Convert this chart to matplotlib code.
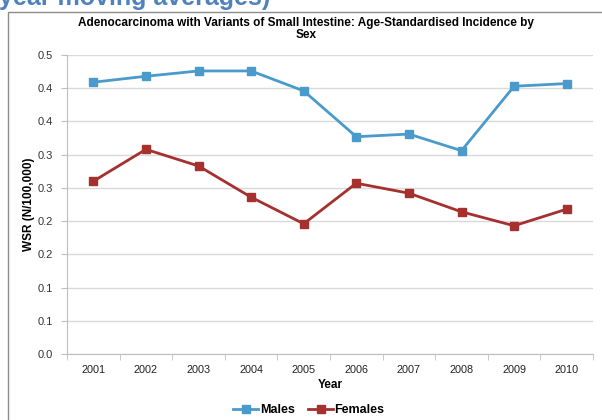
import matplotlib.pyplot as plt
from matplotlib.patches import Rectangle

plt.rcParams['font.family'] = ['Liberation Sans', 'DejaVu Sans']

years = ['2001', '2002', '2003', '2004', '2005', '2006', '2007', '2008', '2009', '2010']
males = [0.409, 0.418, 0.426, 0.426, 0.396, 0.327, 0.331, 0.306, 0.403, 0.407]
females = [0.260, 0.308, 0.283, 0.236, 0.196, 0.257, 0.242, 0.214, 0.193, 0.218]

y_ticks = [0.0, 0.05, 0.10, 0.15, 0.20, 0.25, 0.30, 0.35, 0.40, 0.45]
y_labels = ['0.0', '0.1', '0.1', '0.2', '0.2', '0.3', '0.3', '0.4', '0.4', '0.5']

blue = '#4A9BCB'
red = '#A5302E'
grid = '#D9D9D9'
axis_col = '#BFBFBF'

fig = plt.figure(figsize=(6.02, 4.20), dpi=100)

# chart frame (only the top and left edges fall inside the image)
fig.patches.append(Rectangle((8 / 602, -0.05), 1.2, (420 - 12) / 420 + 0.05,
                             transform=fig.transFigure, fill=False,
                             edgecolor='#8C8C8C', linewidth=1.0))

# slide heading above the chart, partly off the top edge
fig.text(-0.002, 1 - 5 / 420, 'year moving averages)', color='#4F81BD',
         fontsize=18, fontweight='bold', ha='left', va='baseline')

ax = fig.add_axes([67 / 602, 1 - 354 / 420, (593 - 67) / 602, (354 - 55) / 420])

x = list(range(len(years)))
ax.plot(x, males, color=blue, lw=2, marker='s', ms=5.5, label='Males')
ax.plot(x, females, color=red, lw=2, marker='s', ms=5.5, label='Females')

ax.set_xlim(-0.5, len(years) - 0.5)
ax.set_ylim(0, 0.45)
ax.set_yticks(y_ticks)
ax.set_yticklabels(y_labels)
ax.set_xticks(x)
ax.set_xticklabels(years)
ax.set_xticks([i - 0.5 for i in range(len(years) + 1)], minor=True)

ax.yaxis.grid(True, color=grid, lw=1)
ax.set_axisbelow(True)
for s in ['top', 'right']:
    ax.spines[s].set_visible(False)
for s in ['left', 'bottom']:
    ax.spines[s].set_color(axis_col)

ax.tick_params(axis='y', length=4, color=axis_col, labelsize=8, pad=6, labelcolor='#333333')
ax.tick_params(axis='x', which='major', length=0, labelsize=7.8, pad=8, labelcolor='#222222')
ax.tick_params(axis='x', which='minor', length=4, color=axis_col)

ax.set_xlabel('Year', fontsize=8.5, fontweight='bold', labelpad=3)
ax.set_ylabel('WSR (N/100,000)', fontsize=8.5, fontweight='bold', labelpad=2)

fig.text(306 / 602, 1 - 29 / 420,
         'Adenocarcinoma with Variants of Small Intestine: Age-Standardised Incidence by\nSex',
         ha='center', va='center', fontsize=8.5, fontweight='bold', linespacing=1.05)

fig.legend(loc='center', bbox_to_anchor=(309 / 602, 1 - 410 / 420), ncol=2,
           frameon=False, prop={'weight': 'bold', 'size': 9},
           handlelength=2.0, handletextpad=0.1, columnspacing=1.1)

fig.savefig('out.png', dpi=100)
